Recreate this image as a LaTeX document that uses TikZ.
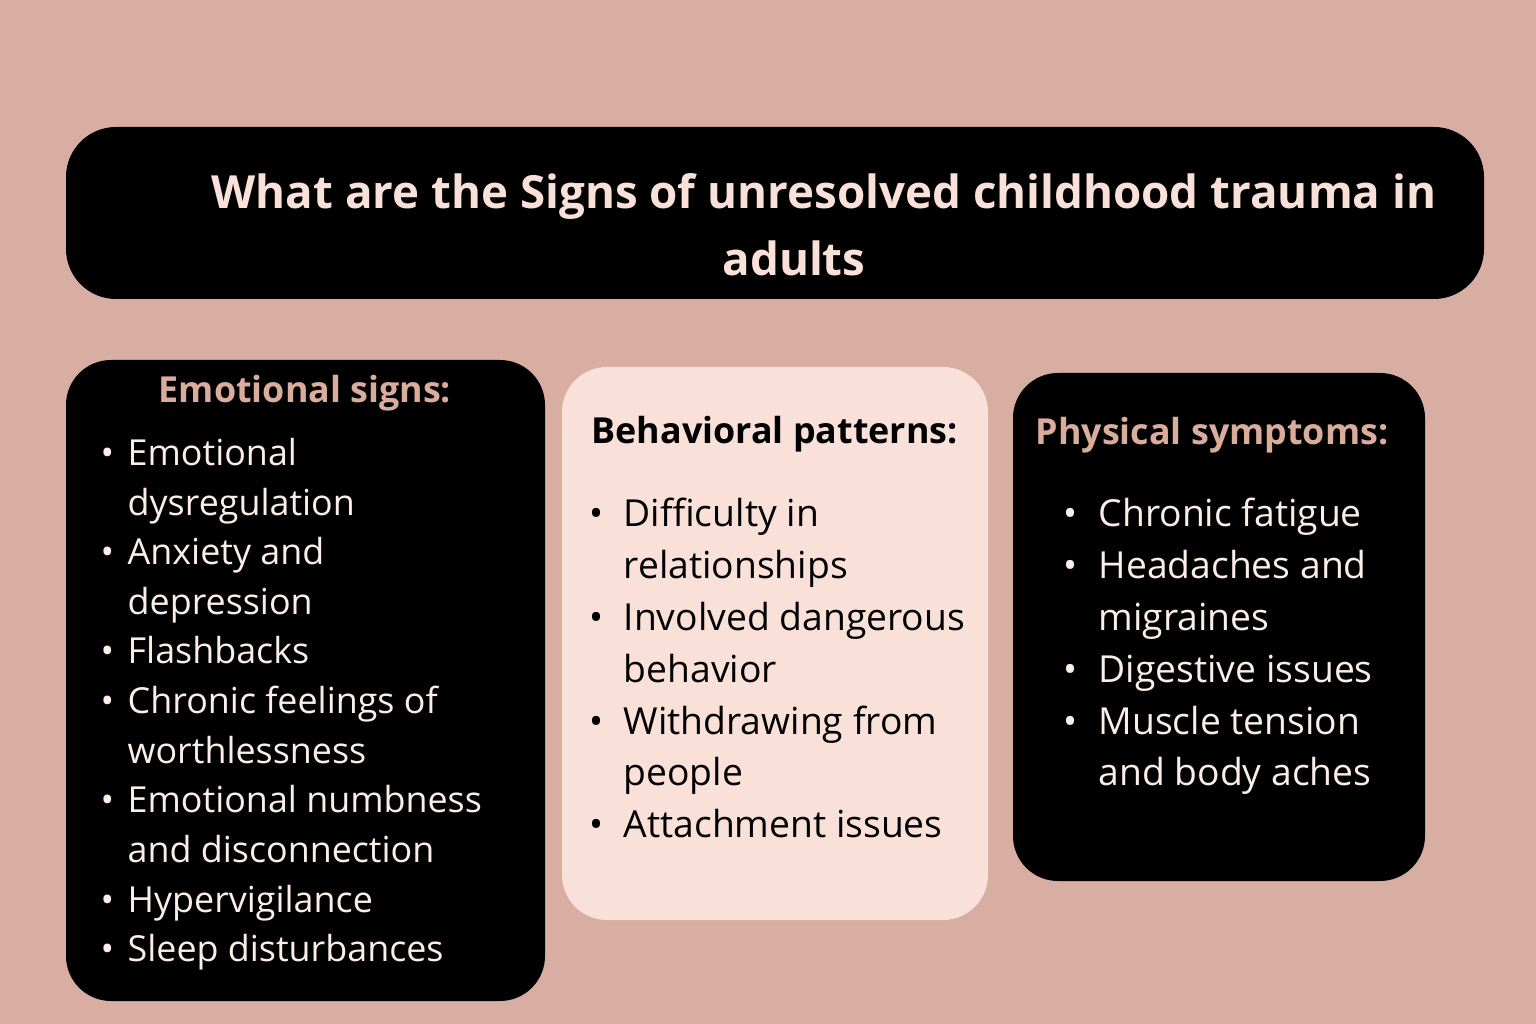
\documentclass[tikz,border=0pt]{standalone}
\usepackage{fontspec}
\setmainfont{Open Sans}
\definecolor{bg}{HTML}{D8ADA2}
\definecolor{lt}{HTML}{F9E1DA}
\definecolor{tan}{HTML}{D9AC9C}
\definecolor{wt}{HTML}{FBEDE8}
\begin{document}
\begin{tikzpicture}[x=0.1mm,y=-0.1mm,
  box/.style={rounded corners=5mm,inner sep=0},
  lst/.style={anchor=north west,inner sep=0,align=left},
  hd/.style={inner sep=0,font=\bfseries\fontsize{10.2}{12}\selectfont}]
\fill[bg] (0,0) rectangle (1536,1024);
\useasboundingbox (0,0) rectangle (1536,1024);
\fill[black,rounded corners=5mm] (66,127) rectangle (1484,299);
\node[inner sep=0,text=lt,align=center,font=\bfseries\fontsize{13}{19}\selectfont] (title) at (794,225)
 {\hspace*{0.6cm}What are the Signs of unresolved childhood trauma in\\ adults};
\fill[black,rounded corners=4.5mm] (66,360) rectangle (545,1001);
\fill[lt,rounded corners=4.5mm] (562,367) rectangle (988,920);
\fill[black,rounded corners=4.5mm] (1013,373) rectangle (1425,881);
\node[hd,text=tan] (h1) at (305,393) {Emotional signs:};
\node[hd,text=black,anchor=west] (h2) at (591,434) {Behavioral patterns:};
\node[hd,text=tan,anchor=west] (h3) at (1035,435) {Physical symptoms:};
\node[lst,text=wt] (l1) at (100,430) {\fontsize{10.2}{14.12}\selectfont
\begin{tabular}{@{}p{2.7mm}@{}l@{}}
\textbullet & Emotional\\ & dysregulation\\
\textbullet & Anxiety and\\ & depression\\
\textbullet & Flashbacks\\
\textbullet & Chronic feelings of\\ & worthlessness\\
\textbullet & Emotional numbness\\ & and disconnection\\
\textbullet & Hypervigilance\\
\textbullet & Sleep disturbances
\end{tabular}};
\node[lst,text=black] (l2) at (589,490) {\fontsize{10.6}{14.74}\selectfont
\begin{tabular}{@{}p{3.4mm}@{}l@{}}
\textbullet & Difficulty in\\ & relationships\\
\textbullet & Involved dangerous\\ & behavior\\
\textbullet & Withdrawing from\\ & people\\
\textbullet & Attachment issues
\end{tabular}};
\node[lst,text=wt] (l3) at (1063,490) {\fontsize{10.6}{14.74}\selectfont
\begin{tabular}{@{}p{3.5mm}@{}l@{}}
\textbullet & Chronic fatigue\\
\textbullet & Headaches and\\ & migraines\\
\textbullet & Digestive issues\\
\textbullet & Muscle tension\\ & and body aches
\end{tabular}};
\end{tikzpicture}
\end{document}
